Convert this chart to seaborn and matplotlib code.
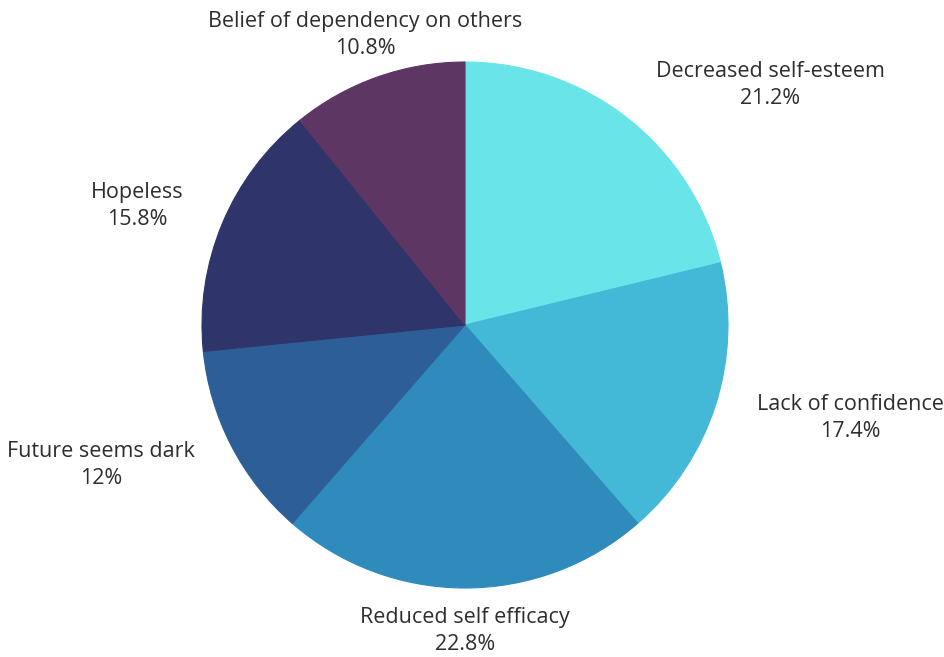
import matplotlib
matplotlib.use("Agg")
import matplotlib.pyplot as plt
import seaborn as sns

# Reported effects and their shares (%)
categories = [
    "Decreased self-esteem",
    "Lack of confidence",
    "Reduced self efficacy",
    "Future seems dark",
    "Hopeless",
    "Belief of dependency on others",
]
shares = [21.2, 17.4, 22.8, 12, 15.8, 10.8]
share_labels = ["21.2%", "17.4%", "22.8%", "12%", "15.8%", "10.8%"]

colors = ["#69E4E9", "#43B8D7", "#2E8BBB", "#2D5E97", "#2F346B", "#5E3663"]

# Label anchor points, in units of the pie radius
label_xy = [
    (1.160, 0.913),
    (1.464, -0.354),
    (0.0, -1.163),
    (-1.384, -0.532),
    (-1.247, 0.452),
    (-0.380, 1.103),
]

sns.set_theme(style="white")
plt.rcParams["font.family"] = ["Open Sans", "DejaVu Sans"]

W, H, DPI = 944, 657, 100
fig = plt.figure(figsize=(W / DPI, H / DPI), dpi=DPI)
ax = fig.add_axes([0, 0, 1, 1])

R_PX = 263.0
CX, CY = 465.0, 325.0

wedges, _ = ax.pie(
    shares,
    colors=colors,
    startangle=90,
    counterclock=False,
    radius=1.0,
)
# Outline each wedge in its own colour so no seams show between slices
for w, c in zip(wedges, colors):
    w.set_edgecolor(c)
    w.set_linewidth(0.8)

for name, pct, (x, y) in zip(categories, share_labels, label_xy):
    ax.text(
        x, y, f"{name}\n{pct}",
        ha="center", va="center",
        fontsize=15.5, color="#2E2E2E",
        linespacing=1.4,
    )

ax.set_xlim(-CX / R_PX, (W - CX) / R_PX)
ax.set_ylim(-(H - CY) / R_PX, CY / R_PX)
ax.set_aspect("equal")
ax.axis("off")

fig.savefig("out.png", dpi=DPI, facecolor="white")
